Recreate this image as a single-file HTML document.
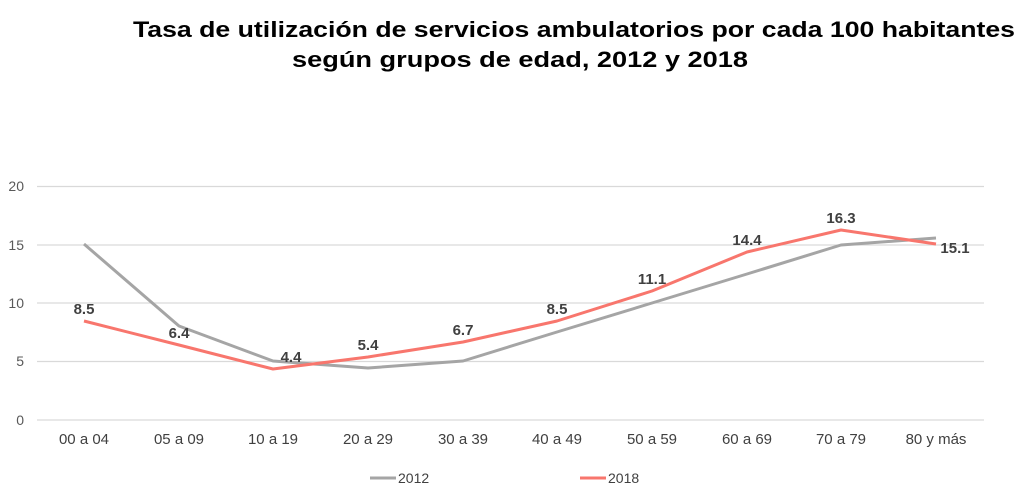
<!DOCTYPE html>
<html><head><meta charset="utf-8"><style>
body{margin:0;background:#fff;}
svg{display:block;font-family:"Liberation Sans",Arial,sans-serif;}
</style></head><body>
<svg width="1024" height="485" viewBox="0 0 1024 485">
<text x="133" y="37" textLength="882" lengthAdjust="spacingAndGlyphs" font-size="22" font-weight="bold" fill="#000">Tasa de utilización de servicios ambulatorios por cada 100 habitantes</text>
<text x="292" y="67" textLength="456" lengthAdjust="spacingAndGlyphs" font-size="22" font-weight="bold" fill="#000">según grupos de edad, 2012 y 2018</text>
<g stroke="#d9d9d9" stroke-width="1.3">
<line x1="37" x2="984" y1="186.5" y2="186.5"/><line x1="37" x2="984" y1="245" y2="245"/>
<line x1="37" x2="984" y1="303" y2="303"/><line x1="37" x2="984" y1="361.5" y2="361.5"/>
<line x1="37" x2="984" y1="420" y2="420"/></g>
<g font-size="14" fill="#595959" text-anchor="end">
<text x="24" y="191">20</text><text x="24" y="250">15</text><text x="24" y="308">10</text><text x="24" y="366">5</text><text x="24" y="425">0</text></g>
<g font-size="15" fill="#404040" text-anchor="middle">
<text x="84" y="444">00 a 04</text><text x="179" y="444">05 a 09</text><text x="273" y="444">10 a 19</text><text x="368" y="444">20 a 29</text><text x="463" y="444">30 a 39</text><text x="557" y="444">40 a 49</text><text x="652" y="444">50 a 59</text><text x="747" y="444">60 a 69</text><text x="841" y="444">70 a 79</text><text x="936" y="444">80 y más</text></g>
<polyline fill="none" stroke="#a5a5a5" stroke-width="3" stroke-linejoin="round" points="84,244 179,326 273,361 368,368 463,361 557,332 652,303 747,274 841,245 936,238"/>
<polyline fill="none" stroke="#f8766d" stroke-width="3" stroke-linejoin="round" points="84,321 179,345 273,369 368,357 463,342 557,321 652,291 747,252 841,230 936,244"/>
<g font-size="15" font-weight="bold" fill="#404040" text-anchor="middle">
<text x="84" y="314">8.5</text><text x="179" y="338">6.4</text><text x="291" y="362">4.4</text><text x="368" y="350">5.4</text><text x="463" y="335">6.7</text><text x="557" y="314">8.5</text><text x="652" y="284">11.1</text><text x="747" y="245">14.4</text><text x="841" y="223">16.3</text><text x="955" y="253">15.1</text></g>
<line x1="370" x2="396" y1="478" y2="478" stroke="#a5a5a5" stroke-width="3"/>
<text x="398" y="483" font-size="14" fill="#404040">2012</text>
<line x1="580" x2="606" y1="478" y2="478" stroke="#f8766d" stroke-width="3"/>
<text x="608" y="483" font-size="14" fill="#404040">2018</text>
</svg>
</body></html>
